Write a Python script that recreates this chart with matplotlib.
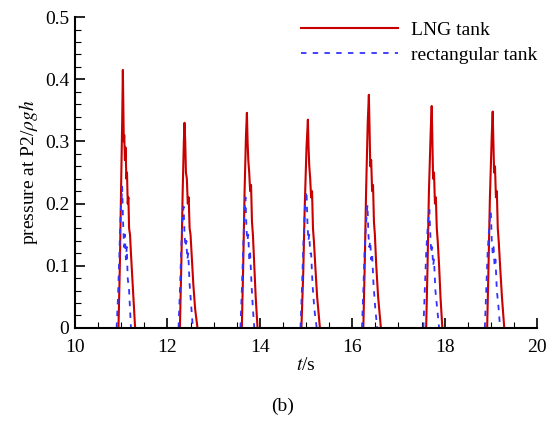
import matplotlib
matplotlib.use('Agg')
import matplotlib.pyplot as plt
from matplotlib.ticker import MultipleLocator
import numpy as np

nan = np.nan

# LNG tank pressure at P2 (seven impacts), NaN separates the impacts
lng_t = [10.94, 10.97, 11.00, 11.02, 11.035, 11.045, 11.055, 11.065, 11.08, 11.095, 11.11, 11.125, 11.14, 11.155, 11.17, 11.19, 11.21, 11.24, 11.27, 11.30, nan,
         12.27, 12.30, 12.33, 12.355, 12.37, 12.385, 12.40, 12.42, 12.44, 12.46, 12.48, 12.50, 12.53, 12.56, 12.60, 12.65, nan,
         13.61, 13.64, 13.67, 13.70, 13.72, 13.735, 13.75, 13.77, 13.79, 13.81, 13.83, 13.85, 13.88, 13.91, 13.95, nan,
         14.90, 14.94, 14.97, 15.01, 15.04, 15.055, 15.07, 15.09, 15.11, 15.13, 15.15, 15.17, 15.20, 15.24, 15.30, nan,
         16.24, 16.27, 16.30, 16.335, 16.36, 16.375, 16.39, 16.41, 16.43, 16.45, 16.47, 16.49, 16.52, 16.56, 16.62, nan,
         17.60, 17.63, 17.66, 17.70, 17.72, 17.735, 17.75, 17.77, 17.79, 17.81, 17.83, 17.85, 17.88, 17.91, 17.95, nan,
         18.92, 18.95, 18.98, 19.02, 19.04, 19.055, 19.07, 19.09, 19.11, 19.13, 19.15, 19.17, 19.20, 19.24, 19.29]
lng_p = [0, 0.10, 0.24, 0.33, 0.415, 0.36, 0.30, 0.31, 0.27, 0.29, 0.24, 0.25, 0.20, 0.21, 0.16, 0.15, 0.12, 0.08, 0.04, 0, nan,
         0, 0.10, 0.22, 0.30, 0.33, 0.30, 0.25, 0.24, 0.20, 0.21, 0.16, 0.15, 0.11, 0.07, 0.03, 0, nan,
         0, 0.10, 0.22, 0.31, 0.346, 0.30, 0.27, 0.25, 0.22, 0.23, 0.17, 0.15, 0.10, 0.05, 0, nan,
         0, 0.09, 0.19, 0.29, 0.335, 0.29, 0.26, 0.24, 0.21, 0.22, 0.16, 0.14, 0.10, 0.05, 0, nan,
         0, 0.10, 0.22, 0.33, 0.375, 0.32, 0.26, 0.27, 0.22, 0.23, 0.17, 0.15, 0.10, 0.05, 0, nan,
         0, 0.10, 0.22, 0.32, 0.357, 0.30, 0.24, 0.25, 0.20, 0.21, 0.16, 0.14, 0.10, 0.05, 0, nan,
         0, 0.10, 0.21, 0.31, 0.348, 0.30, 0.25, 0.26, 0.21, 0.22, 0.16, 0.14, 0.10, 0.05, 0]

# rectangular tank pressure at P2
rect_t = [10.90, 10.93, 10.96, 10.99, 11.01, 11.02, 11.04, 11.06, 11.08, 11.10, 11.12, 11.14, 11.17, 11.19, 11.21, nan,
          12.24, 12.27, 12.30, 12.33, 12.35, 12.37, 12.39, 12.41, 12.43, 12.45, 12.48, 12.52, 12.55, nan,
          13.58, 13.61, 13.64, 13.67, 13.69, 13.71, 13.73, 13.75, 13.77, 13.79, 13.82, 13.85, 13.88, nan,
          14.88, 14.91, 14.94, 14.98, 15.01, 15.03, 15.05, 15.07, 15.09, 15.11, 15.14, 15.18, 15.23, nan,
          16.21, 16.24, 16.27, 16.31, 16.33, 16.35, 16.37, 16.39, 16.41, 16.43, 16.46, 16.50, 16.54, nan,
          17.54, 17.57, 17.60, 17.64, 17.67, 17.69, 17.71, 17.73, 17.75, 17.77, 17.80, 17.84, 17.88, nan,
          18.87, 18.90, 18.93, 18.97, 19.00, 19.02, 19.04, 19.06, 19.08, 19.10, 19.13, 19.17, 19.20]
rect_p = [0, 0.05, 0.12, 0.19, 0.21, 0.227, 0.17, 0.13, 0.15, 0.11, 0.13, 0.08, 0.06, 0.03, 0, nan,
          0, 0.06, 0.13, 0.18, 0.195, 0.15, 0.13, 0.14, 0.11, 0.12, 0.07, 0.03, 0, nan,
          0, 0.06, 0.13, 0.19, 0.21, 0.16, 0.14, 0.15, 0.11, 0.12, 0.07, 0.03, 0, nan,
          0, 0.06, 0.13, 0.20, 0.22, 0.17, 0.14, 0.15, 0.12, 0.12, 0.07, 0.03, 0, nan,
          0, 0.06, 0.13, 0.18, 0.198, 0.15, 0.13, 0.14, 0.11, 0.12, 0.07, 0.03, 0, nan,
          0, 0.06, 0.12, 0.17, 0.19, 0.15, 0.12, 0.13, 0.10, 0.11, 0.06, 0.03, 0, nan,
          0, 0.06, 0.12, 0.17, 0.187, 0.14, 0.12, 0.13, 0.10, 0.11, 0.06, 0.03, 0]

x_ticks = [10, 12, 14, 16, 18, 20]
y_ticks = [0, 0.1, 0.2, 0.3, 0.4, 0.5]
y_ticklabels = ['0', '0.1', '0.2', '0.3', '0.4', '0.5']

plt.rcParams['font.family'] = ['Liberation Serif', 'DejaVu Serif']
plt.rcParams['mathtext.fontset'] = 'stix'

fig = plt.figure(figsize=(5.6, 4.28), dpi=100)
ax = fig.add_axes([0.134, 0.234, 0.825, 0.726])

ax.plot(lng_t, lng_p, color='#c80000', lw=1.5, label='LNG tank')
ax.plot(rect_t, rect_p, color='#3333ff', lw=1.3, ls=(0, (3, 3.5)), label='rectangular tank')

ax.set_xlim(10, 20)
ax.set_ylim(0, 0.5)
ax.set_xticks(x_ticks)
ax.set_yticks(y_ticks, y_ticklabels)
ax.xaxis.set_minor_locator(MultipleLocator(0.5))
ax.yaxis.set_minor_locator(MultipleLocator(0.02))
ax.tick_params(which='major', direction='in', length=7, width=1.2, labelsize=14)
ax.tick_params(axis='x', which='major', pad=8)
ax.tick_params(axis='y', which='major', pad=4)
ax.tick_params(which='minor', direction='in', length=4, width=0.8)

for s in ['top', 'right']:
    ax.spines[s].set_visible(False)
for s in ['left', 'bottom']:
    ax.spines[s].set_linewidth(1.5)
    ax.spines[s].set_zorder(5)

ax.set_xlabel('$t$/s', fontsize=14, labelpad=1)
ax.set_ylabel(r'pressure at P2/$\rho gh$', fontsize=14, labelpad=4)

ax.legend(loc='upper right', frameon=False, fontsize=14, handlelength=5.0,
          handletextpad=0.65, labelspacing=0.4, borderpad=0, borderaxespad=0,
          bbox_to_anchor=(537 / 560, 1 - 21 / 428), bbox_transform=fig.transFigure)

fig.text(0.505, 0.04, '(b)', fontsize=14, ha='center')

fig.savefig('out.png', dpi=100)
